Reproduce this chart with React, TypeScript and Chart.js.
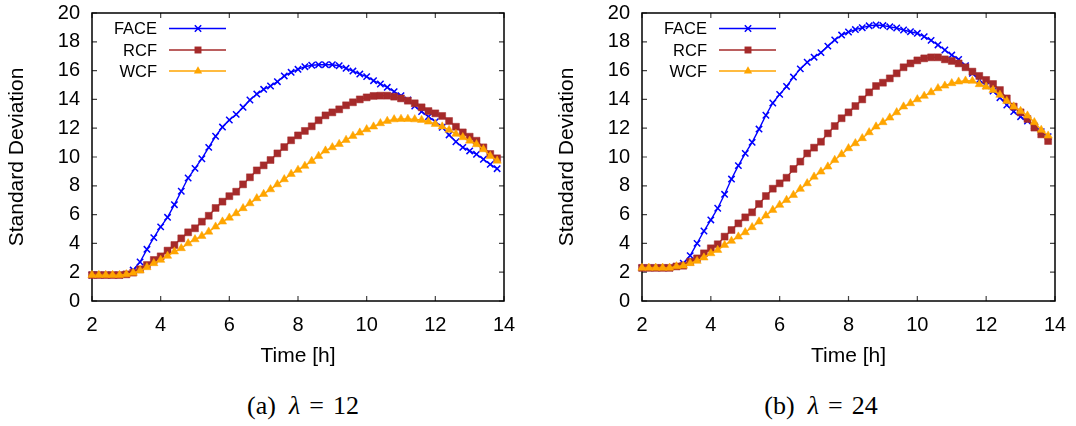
import React, { useEffect, useRef } from "react";
import { Chart, registerables } from "chart.js";

Chart.register(...registerables);

// ---------- data ----------
const TIMES = [
  2.0, 2.2, 2.4, 2.6, 2.8, 3.0, 3.2, 3.4, 3.6, 3.8,
  4.0, 4.2, 4.4, 4.6, 4.8, 5.0, 5.2, 5.4, 5.6, 5.8,
  6.0, 6.2, 6.4, 6.6, 6.8, 7.0, 7.2, 7.4, 7.6, 7.8,
  8.0, 8.2, 8.4, 8.6, 8.8, 9.0, 9.2, 9.4, 9.6, 9.8,
  10.0, 10.2, 10.4, 10.6, 10.8, 11.0, 11.2, 11.4, 11.6, 11.8,
  12.0, 12.2, 12.4, 12.6, 12.8, 13.0, 13.2, 13.4, 13.6, 13.8,
];
const X_TICKS = [2, 4, 6, 8, 10, 12, 14];
const Y_TICKS = [0, 2, 4, 6, 8, 10, 12, 14, 16, 18, 20];
const SERIES_NAMES = ["FACE", "RCF", "WCF"];
const CAPTIONS = ["(a)", "(b)"];
const LAMBDAS = ["12", "24"];
const X_TITLE = "Time [h]";
const Y_TITLE = "Standard Deviation";

// lambda = 12
const FACE_12 = [
  1.8, 1.8, 1.8, 1.8, 1.8, 1.85, 2.15, 2.71, 3.59, 4.4,
  5.15, 5.81, 6.69, 7.62, 8.54, 9.21, 9.88, 10.67, 11.44, 12.08,
  12.57, 12.96, 13.45, 13.96, 14.37, 14.7, 14.93, 15.23, 15.63, 15.88,
  16.09, 16.27, 16.37, 16.41, 16.41, 16.41, 16.34, 16.16, 15.97, 15.76,
  15.58, 15.3, 15.07, 14.84, 14.54, 14.26, 13.96, 13.54, 13.15, 12.8,
  12.45, 12.06, 11.53, 11.06, 10.67, 10.42, 10.19, 9.84, 9.49, 9.19,
];
const RCF_12 = [
  1.8, 1.8, 1.8, 1.8, 1.8, 1.85, 1.97, 2.2, 2.5, 2.85,
  3.1, 3.5, 3.89, 4.35, 4.77, 5.05, 5.51, 5.92, 6.46, 6.9,
  7.28, 7.59, 8.1, 8.59, 9.07, 9.42, 9.79, 10.25, 10.69, 11.16,
  11.5, 11.81, 12.13, 12.55, 12.89, 13.1, 13.31, 13.59, 13.8, 14.0,
  14.14, 14.24, 14.26, 14.26, 14.19, 14.07, 13.91, 13.73, 13.45, 13.19,
  13.03, 12.85, 12.5, 12.1, 11.71, 11.41, 11.13, 10.67, 10.21, 9.91,
];
const WCF_12 = [
  1.8, 1.8, 1.8, 1.8, 1.8, 1.85, 1.95, 2.11, 2.34, 2.62,
  2.85, 3.13, 3.43, 3.66, 4.0, 4.28, 4.51, 4.81, 5.16, 5.51,
  5.78, 6.09, 6.44, 6.78, 7.13, 7.43, 7.75, 8.1, 8.45, 8.82,
  9.1, 9.38, 9.72, 10.07, 10.44, 10.67, 10.9, 11.18, 11.46, 11.69,
  11.92, 12.11, 12.34, 12.5, 12.61, 12.64, 12.64, 12.61, 12.57, 12.45,
  12.29, 12.11, 11.88, 11.6, 11.37, 11.13, 10.88, 10.53, 10.07, 9.74,
];

// lambda = 24
const FACE_24 = [
  2.3, 2.3, 2.3, 2.3, 2.3, 2.4, 2.62, 3.15, 4.0, 4.86,
  5.63, 6.44, 7.41, 8.47, 9.4, 10.25, 11.02, 11.94, 12.9, 13.75,
  14.35, 14.9, 15.55, 16.12, 16.58, 16.93, 17.25, 17.7, 18.13, 18.47,
  18.68, 18.85, 18.98, 19.11, 19.17, 19.13, 19.04, 18.96, 18.82, 18.7,
  18.59, 18.36, 18.1, 17.78, 17.43, 17.08, 16.78, 16.34, 15.81, 15.35,
  14.95, 14.58, 14.12, 13.61, 13.15, 12.8, 12.5, 12.15, 11.76, 11.41,
];
const RCF_24 = [
  2.3, 2.3, 2.3, 2.3, 2.3, 2.4, 2.45, 2.73, 2.96, 3.31,
  3.66, 3.94, 4.47, 4.93, 5.39, 5.81, 6.16, 6.74, 7.29, 7.8,
  8.17, 8.56, 9.17, 9.68, 10.25, 10.65, 11.06, 11.64, 12.15, 12.69,
  13.1, 13.54, 14.0, 14.49, 14.93, 15.16, 15.46, 15.81, 16.23, 16.5,
  16.71, 16.85, 16.92, 16.92, 16.78, 16.67, 16.5, 16.23, 15.93, 15.63,
  15.35, 15.07, 14.65, 14.07, 13.5, 13.1, 12.64, 12.04, 11.57, 11.11,
];
const WCF_24 = [
  2.3, 2.3, 2.3, 2.3, 2.3, 2.4, 2.45, 2.62, 2.78, 3.01,
  3.31, 3.54, 3.89, 4.17, 4.47, 4.77, 5.12, 5.51, 5.93, 6.32,
  6.67, 7.01, 7.36, 7.78, 8.17, 8.63, 8.98, 9.33, 9.79, 10.19,
  10.6, 10.95, 11.3, 11.71, 12.11, 12.41, 12.73, 13.1, 13.5, 13.73,
  14.0, 14.24, 14.49, 14.77, 14.95, 15.12, 15.23, 15.3, 15.28, 15.05,
  14.88, 14.65, 14.31, 13.89, 13.5, 13.19, 12.87, 12.41, 11.88, 11.48,
];

// ---------- styles ----------
const FAMILY = "'Liberation Sans', Arial, Helvetica, sans-serif";
const COLORS = ["#0000ff", "#a52a2a", "#ffa500"];
const POINT_STYLES = ["crossRot", "rect", "triangle"];
const POINT_RADII = [4.5, 4.9, 4.8];

function drawMarker(ctx: CanvasRenderingContext2D, style: string, x: number, y: number, r: number, color: string) {
  ctx.save();
  ctx.strokeStyle = color;
  ctx.fillStyle = color;
  ctx.beginPath();
  if (style === "crossRot") {
    const o = r * Math.SQRT1_2;
    ctx.lineWidth = 1.5;
    ctx.moveTo(x - o, y - o);
    ctx.lineTo(x + o, y + o);
    ctx.moveTo(x - o, y + o);
    ctx.lineTo(x + o, y - o);
    ctx.stroke();
  } else if (style === "rect") {
    const s = r * Math.SQRT1_2;
    ctx.rect(x - s, y - s, 2 * s, 2 * s);
    ctx.fill();
  } else {
    let a = 0;
    ctx.moveTo(x + Math.sin(a) * r, y - Math.cos(a) * r);
    a += (2 * Math.PI) / 3;
    ctx.lineTo(x + Math.sin(a) * r, y - Math.cos(a) * r);
    a += (2 * Math.PI) / 3;
    ctx.lineTo(x + Math.sin(a) * r, y - Math.cos(a) * r);
    ctx.closePath();
    ctx.fill();
  }
  ctx.restore();
}

const framePlugin = {
  id: "gnuFrame",
  beforeDatasetsDraw(chart: any) {
    const { ctx, chartArea: a, scales } = chart;
    ctx.save();
    const TL = 5;
    ctx.strokeStyle = "#444";
    ctx.lineWidth = 1.2;
    ctx.beginPath();
    X_TICKS.forEach((v) => {
      const x = scales.x.getPixelForValue(v);
      ctx.moveTo(x, a.bottom);
      ctx.lineTo(x, a.bottom - TL);
      ctx.moveTo(x, a.top);
      ctx.lineTo(x, a.top + TL);
    });
    Y_TICKS.forEach((v) => {
      const y = scales.y.getPixelForValue(v);
      ctx.moveTo(a.left, y);
      ctx.lineTo(a.left + TL, y);
      ctx.moveTo(a.right, y);
      ctx.lineTo(a.right - TL, y);
    });
    ctx.stroke();
    ctx.strokeStyle = "#000";
    ctx.lineWidth = 1.5;
    ctx.strokeRect(a.left, a.top, a.right - a.left, a.bottom - a.top);
    ctx.restore();
  },
  afterDraw(chart: any) {
    const { ctx, chartArea: a } = chart;
    ctx.save();
    ctx.font = `16.5px ${FAMILY}`;
    ctx.textAlign = "right";
    ctx.textBaseline = "middle";
    const rows = [15.5, 37, 58];
    chart.data.datasets.forEach((ds: any, i: number) => {
      const y = a.top + rows[i];
      ctx.fillStyle = "#000";
      ctx.fillText(ds.label, a.left + 65, y + 1);
      ctx.strokeStyle = ds.borderColor;
      ctx.lineWidth = ds.borderWidth;
      ctx.beginPath();
      ctx.moveTo(a.left + 77, y);
      ctx.lineTo(a.left + 134, y);
      ctx.stroke();
      drawMarker(ctx, ds.pointStyle, a.left + 106, y, ds.pointRadius, ds.borderColor);
    });
    ctx.restore();
  },
};

function StdChart(props: { series: number[][]; left: number; width: number; padRight: number }) {
  const ref = useRef<HTMLCanvasElement>(null);
  useEffect(() => {
    const canvas = ref.current;
    if (!canvas) return;
    const datasets = props.series.map((vals, i) => ({
      label: SERIES_NAMES[i],
      data: TIMES.map((t, k) => ({ x: t, y: vals[k] })),
      borderColor: COLORS[i],
      backgroundColor: COLORS[i],
      pointBackgroundColor: COLORS[i],
      pointBorderColor: COLORS[i],
      borderWidth: 1.4,
      pointStyle: POINT_STYLES[i],
      pointRadius: POINT_RADII[i],
      pointBorderWidth: i === 0 ? 1.5 : 0.5,
      pointHoverRadius: POINT_RADII[i],
      order: 3 - i,
      clip: false as any,
      tension: 0,
    }));
    const tickFont = { family: FAMILY, size: 20 };
    const titleFont = { family: FAMILY, size: 21 };
    const chart = new Chart(canvas, {
      type: "line",
      data: { datasets: datasets as any },
      options: {
        animation: false,
        responsive: false,
        devicePixelRatio: 1,
        events: [],
        layout: { padding: { top: 13, right: props.padRight, bottom: 0, left: 0 } },
        plugins: { legend: { display: false }, tooltip: { enabled: false } },
        scales: {
          x: {
            type: "linear",
            min: 2,
            max: 14,
            afterFit: (s: any) => {
              s.height = 79;
              s.paddingLeft = 0;
              s.paddingRight = 0;
            },
            afterBuildTicks: (s: any) => {
              s.ticks = X_TICKS.map((v) => ({ value: v }));
            },
            grid: { display: false, drawTicks: false },
            border: { display: false },
            ticks: { padding: 12, font: tickFont, color: "#000", maxRotation: 0, autoSkip: false },
            title: { display: true, text: X_TITLE, font: titleFont, color: "#000", padding: { top: 0, bottom: 11 } },
          },
          y: {
            type: "linear",
            min: 0,
            max: 20,
            afterFit: (s: any) => {
              s.width = 92;
              s.paddingTop = 0;
              s.paddingBottom = 0;
            },
            afterBuildTicks: (s: any) => {
              s.ticks = Y_TICKS.map((v) => ({ value: v }));
            },
            grid: { display: false, drawTicks: false },
            border: { display: false },
            ticks: { padding: 12, font: tickFont, color: "#000", autoSkip: false },
            title: { display: true, text: Y_TITLE, font: titleFont, color: "#000", padding: { top: 4.4, bottom: 0 } },
          },
        },
      } as any,
      plugins: [framePlugin],
    });
    return () => chart.destroy();
  }, []);
  return (
    <div style={{ position: "absolute", left: props.left, top: 0, width: props.width, height: 380 }}>
      <canvas ref={ref} width={props.width} height={380} style={{ width: props.width, height: 380, display: "block" }} />
    </div>
  );
}

function Caption(props: { label: string; lambda: string; center: number }) {
  return (
    <div
      style={{
        position: "absolute",
        left: props.center,
        top: 391,
        transform: "translateX(-50%)",
        fontFamily: "'Liberation Serif', 'DejaVu Serif', serif",
        fontSize: 26,
        lineHeight: "30px",
        whiteSpace: "nowrap",
        color: "#000",
      }}
    >
      <span>{props.label}</span>
      <span style={{ display: "inline-block", width: 13 }} />
      <i>λ</i>
      <span style={{ padding: "0 9px" }}>=</span>
      <span>{props.lambda}</span>
    </div>
  );
}

export default function App() {
  return (
    <div style={{ position: "fixed", left: 0, top: 0, width: 1076, height: 426, background: "#fff", overflow: "hidden" }}>
      <StdChart series={[FACE_12, RCF_12, WCF_12]} left={0} width={540} padRight={36} />
      <StdChart series={[FACE_24, RCF_24, WCF_24]} left={550} width={526} padRight={21} />
      <Caption label={CAPTIONS[0]} lambda={LAMBDAS[0]} center={303} />
      <Caption label={CAPTIONS[1]} lambda={LAMBDAS[1]} center={821} />
    </div>
  );
}
